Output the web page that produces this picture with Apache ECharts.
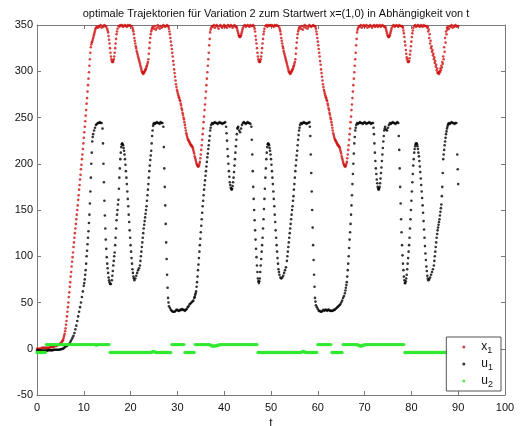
<!DOCTYPE html>
<html>
<head>
<meta charset="utf-8">
<title>optimale Trajektorien</title>
<script src="https://cdn.jsdelivr.net/npm/echarts@6/dist/echarts.min.js"></script>
<style>
  html, body { margin: 0; padding: 0; background: #fff; }
  #main_chart { width: 522px; height: 426px; }
</style>
</head>
<body>
<div id="main_chart"></div>
<script>
// sample step of the trajectories (t = 0 .. 90)
var tStep = 0.2;

var xTicks = [0, 10, 20, 30, 40, 50, 60, 70, 80, 90, 100];
var yTicks = [-50, 0, 50, 100, 150, 200, 250, 300, 350];

// x_1
var x1 = [
  0,0,0,0,0,1,1,1,1,1,
  1,1,1,1,2,2,2,2,2,3,
  3,3,4,4,5,6,7,8,10,14,
  19,26,35,45,56,67,78,89,99,110,
  120,130,140,150,161,172,183,194,205,216,
  228,240,252,265,278,292,306,320,329,332,
  336,340,344,347,348,347,349,348,350,347,
  349,348,350,349,348,346,342,334,325,316,
  311,310,313,320,330,340,346,349,348,350,
  349,350,348,349,350,349,348,350,349,350,
  349,349,347,343,336,330,325,320,316,312,
  308,304,300,298,298,300,302,305,308,313,
  325,336,343,347,348,346,349,345,347,350,
  348,346,349,347,348,350,349,348,349,350,
  349,346,340,332,324,316,307,298,290,283,
  278,274,271,268,263,258,253,248,242,236,
  231,227,225,223,221,220,218,215,211,206,
  202,199,197,198,202,210,220,232,245,258,
  271,285,299,313,328,342,347,349,348,350,
  347,349,350,348,346,349,350,348,347,349,
  350,348,349,347,350,349,348,350,349,347,
  349,350,348,348,345,341,338,337,339,343,
  347,349,350,348,349,350,349,348,350,349,
  349,350,348,343,334,325,316,311,310,313,
  320,330,340,346,349,350,348,350,349,350,
  349,350,349,348,350,349,350,349,349,347,
  343,336,330,325,320,316,312,308,304,300,
  298,298,300,302,305,308,313,325,336,343,
  347,348,346,349,345,348,350,347,349,346,
  348,350,349,348,349,350,349,349,346,340,
  332,324,316,307,298,290,283,278,274,271,
  268,263,258,253,248,242,236,231,227,225,
  223,221,220,218,215,211,206,202,199,197,
  198,202,210,220,232,245,258,271,285,299,
  313,328,342,347,349,348,350,347,349,350,
  348,349,350,347,349,348,350,349,347,349,
  350,348,349,350,348,349,350,348,349,350,
  349,348,348,345,341,338,337,339,343,347,
  349,350,348,349,350,349,348,350,349,349,
  349,347,341,332,323,315,311,310,314,322,
  332,341,347,349,350,348,349,350,349,348,
  350,349,348,350,349,349,349,347,343,336,
  330,325,321,317,313,309,305,301,298,298,
  300,303,306,310,316,326,336,343,347,348,
  346,349,348,350,347,349,348,350,349,348,
  349
];

// x_1, extra samples read on the steep parts [t, value]
var x1Extra = [
  [5.5,9],[5.7,12],[5.9,16],[6.1,22],[6.3,30],[6.5,40],[6.7,50],[6.9,61],[7.1,72],[7.3,83],
  [7.5,94],[7.7,104],[7.9,115],[8.1,125],[8.3,135],[8.5,145],[8.7,155],[8.9,166],[9.1,177],[9.3,188],
  [9.5,199],[9.7,210],[9.9,222],[10.1,234],[10.3,246],[10.5,258],[10.7,271],[10.9,285],[11.1,299],[11.3,313],
  [11.5,326],[11.7,331],[11.9,334],[12.1,338],[12.3,342],[12.5,346],
  [15.1,344],[15.3,338],[15.5,330],[15.7,320],[15.9,313],[16.1,310],[16.3,311],[16.5,316],[16.7,325],[16.9,335],[17.1,343],
  [20.5,345],[20.7,340],[20.9,333],[21.1,327],[21.3,322],[21.5,318],[21.7,314],[21.9,310],[22.1,306],[22.3,302],
  [22.5,299],[22.7,297],[22.9,299],[23.1,301],[23.3,303],[23.5,306],[23.7,310],[23.9,319],[24.1,331],[24.3,340],[24.5,345],
  [28.1,348],[28.3,343],[28.5,336],[28.7,328],[28.9,320],[29.1,311],[29.3,302],[29.5,294],[29.7,286],[29.9,280],
  [30.1,276],[30.3,272],[30.5,269],[30.7,265],[30.9,260],[31.1,255],[31.3,250],[31.5,245],[31.7,239],[31.9,233],
  [32.1,229],[32.3,226],[32.5,224],[32.7,222],[32.9,220],[33.1,219],[33.3,217],[33.5,213],[33.7,208],[33.9,204],
  [34.1,200],[34.3,198],[34.5,197],[34.7,200],[34.9,206],[35.1,215],[35.3,226],[35.5,238],[35.7,251],[35.9,264],
  [36.1,278],[36.3,292],[36.5,306],[36.7,320],[36.9,335],[37.1,345],
  [42.7,347],[42.9,343],[43.1,339],[43.3,337],[43.5,338],[43.7,341],[43.9,345],
  [46.5,346],[46.7,338],[46.9,330],[47.1,320],[47.3,313],[47.5,310],[47.7,311],[47.9,316],[48.1,325],[48.3,335],[48.5,343],
  [51.9,345],[52.1,340],[52.3,333],[52.5,327],[52.7,322],[52.9,318],[53.1,314],[53.3,310],[53.5,306],[53.7,302],
  [53.9,299],[54.1,297],[54.3,299],[54.5,301],[54.7,303],[54.9,306],[55.1,310],[55.3,319],[55.5,331],[55.7,340],[55.9,345],
  [59.5,348],[59.7,343],[59.9,336],[60.1,328],[60.3,320],[60.5,311],[60.7,302],[60.9,294],[61.1,286],[61.3,280],
  [61.5,276],[61.7,272],[61.9,269],[62.1,265],[62.3,260],[62.5,255],[62.7,250],[62.9,245],[63.1,239],[63.3,233],
  [63.5,229],[63.7,226],[63.9,224],[64.1,222],[64.3,220],[64.5,219],[64.7,217],[64.9,213],[65.1,208],[65.3,204],
  [65.5,200],[65.7,198],[65.9,197],[66.1,200],[66.3,206],[66.5,215],[66.7,226],[66.9,238],[67.1,251],[67.3,264],
  [67.5,278],[67.7,292],[67.9,306],[68.1,320],[68.3,335],[68.5,345],
  [74.5,347],[74.7,343],[74.9,339],[75.1,337],[75.3,338],[75.5,341],[75.7,345],
  [78.1,348],[78.3,344],[78.5,337],[78.7,328],[78.9,319],[79.1,313],[79.3,310],[79.5,311],[79.7,318],[79.9,327],[80.1,337],[80.3,344],
  [83.5,348],[83.7,345],[83.9,340],[84.1,333],[84.3,327],[84.5,323],[84.7,319],[84.9,315],[85.1,311],[85.3,307],
  [85.5,303],[85.7,299],[85.9,297],[86.1,299],[86.3,301],[86.5,304],[86.7,308],[86.9,313],[87.1,321],[87.3,331],[87.5,340],[87.7,345]
];

// u_1
var u1 = [
  -2,-2,-2,-2,-2,-2,-2,-2,-2,-2,
  -2,-2,-1.5,-1.5,-1.5,-1.5,-1.5,-1.5,-1,-1,
  -1,-1,-1,-1,-1,-0.5,-0.5,0,0,1,
  2,3,3,4,5,6,8,10,12,14,
  17,21,25,30,35,40,45,50,56,62,
  68,75,85,100,113,127,145,170,200,224,
  232,236,239,242,243,244,244,245,244,244,
  238,200,160,130,108,92,82,74,70,70,
  74,84,95,104,120,139,150,161,185,205,
  218,222,220,214,205,192,178,162,145,128,
  112,98,86,78,74,76,79,82,85,87,
  90,100,110,120,130,138,146,154,166,178,
  192,204,214,230,241,244,243,244,245,244,
  244,243,245,244,244,240,195,155,115,80,
  55,46,44,42,41,40,40,40,41,42,
  42,41,41,42,42,43,42,42,41,42,
  43,45,46,48,49,50,51,52,55,58,
  62,72,85,98,112,126,140,154,166,177,
  187,197,207,216,225,236,242,244,243,244,
  245,244,244,243,244,245,244,244,243,244,
  244,245,240,225,208,192,180,174,172,176,
  185,198,212,226,238,240,236,234,238,242,
  244,245,244,243,244,245,244,244,243,240,
  210,175,150,128,108,90,76,71,76,90,
  105,120,140,162,185,205,218,222,220,214,
  205,192,178,162,145,128,112,98,86,80,
  77,76,77,79,82,85,88,95,105,115,
  125,135,145,154,165,178,192,204,214,226,
  236,242,244,243,244,245,244,244,243,244,
  244,245,230,190,150,112,80,55,47,45,
  43,41,41,40,40,41,42,41,42,42,
  41,42,42,41,41,41,41,42,42,43,
  44,45,46,47,48,50,52,55,57,60,
  66,72,85,100,118,135,155,178,200,222,
  236,242,244,243,244,245,244,244,243,244,
  245,244,243,244,244,245,244,243,244,244,
  232,212,195,183,175,172,175,184,196,210,
  224,236,240,237,236,239,242,244,243,244,
  245,244,244,243,244,245,244,215,175,140,
  112,92,78,71,73,80,92,105,120,140,
  160,180,198,212,219,222,221,216,208,197,
  184,170,155,138,120,103,89,79,74,75,
  77,80,83,86,90,100,110,120,128,134,
  140,148,156,175,205,215,224,232,238,242,
  244,243,244,245,244,244,243,244,244,210,
  178
];

// u_1, extra samples read on the steep parts [t, value]
var u1Extra = [
  [10.1,71],[10.3,80],[10.5,92],[10.7,106],[10.9,120],[11.1,136],[11.3,157],[11.5,185],[11.7,212],[11.9,229],
  [14.1,222],[14.3,180],[14.5,144],[14.7,118],[14.9,99],[15.1,87],[15.3,77],[15.5,72],
  [16.1,79],[16.3,90],[16.5,100],[16.7,112],[16.9,130],[17.1,145],[17.3,156],[17.5,173],[17.7,195],[17.9,212],[18.1,221],
  [18.3,221],[18.5,217],[18.7,210],[18.9,199],[19.1,185],[19.3,170],[19.5,154],[19.7,137],[19.9,120],[20.1,105],[20.3,92],[20.5,82],[20.7,76],
  [22.1,95],[22.3,105],[22.5,115],[22.7,125],[22.9,134],[23.1,142],[23.3,150],[23.5,160],[23.7,172],[23.9,185],
  [24.1,198],[24.3,209],[24.5,222],[24.7,236],[24.9,243],
  [27.1,218],[27.3,175],[27.5,135],[27.7,97],[27.9,66],[28.1,50],
  [33.7,56],[33.9,60],[34.1,67],[34.3,78],[34.5,91],[34.7,105],[34.9,119],[35.1,133],[35.3,147],[35.5,160],
  [35.7,172],[35.9,182],[36.1,192],[36.3,202],[36.5,211],[36.7,220],[36.9,230],[37.1,239],
  [40.5,233],[40.7,216],[40.9,200],[41.1,186],[41.3,177],[41.5,173],[41.7,173],[41.9,180],[42.1,191],[42.3,205],[42.5,219],[42.7,232],[42.9,239],
  [45.9,226],[46.1,192],[46.3,162],[46.5,139],[46.7,118],[46.9,99],[47.1,83],[47.3,73],
  [47.5,73],[47.7,83],[47.9,97],[48.1,112],[48.3,130],[48.5,151],[48.7,173],[48.9,195],[49.1,212],[49.3,221],
  [49.5,221],[49.7,217],[49.9,210],[50.1,199],[50.3,185],[50.5,170],[50.7,154],[50.9,137],[51.1,120],[51.3,105],[51.5,92],[51.7,83],
  [53.5,100],[53.7,110],[53.9,120],[54.1,130],[54.3,140],[54.5,150],[54.7,160],[54.9,172],[55.1,185],[55.3,198],
  [55.5,209],[55.7,220],[55.9,231],[56.1,239],
  [58.3,240],[58.5,210],[58.7,170],[58.9,131],[59.1,96],[59.3,67],[59.5,51],
  [65.9,63],[66.1,69],[66.3,78],[66.5,92],[66.7,109],[66.9,126],[67.1,145],[67.3,166],[67.5,189],[67.7,211],[67.9,229],[68.1,239],
  [71.9,239],[72.1,222],[72.3,203],[72.5,189],[72.7,179],[72.9,173],[73.1,173],[73.3,179],[73.5,190],[73.7,203],[73.9,217],[74.1,230],[74.3,238],
  [77.3,230],[77.5,195],[77.7,157],[77.9,126],[78.1,101],[78.3,85],[78.5,74],
  [78.7,71],[78.9,76],[79.1,86],[79.3,98],[79.5,112],[79.7,130],[79.9,150],[80.1,170],[80.3,189],[80.5,205],
  [80.7,216],[80.9,221],[81.1,222],[81.3,219],[81.5,212],[81.7,203],[81.9,191],[82.1,177],[82.3,163],[82.5,147],
  [82.7,129],[82.9,111],[83.1,96],[83.3,84],[83.5,76],
  [84.9,95],[85.1,105],[85.3,115],[85.5,124],[85.7,131],[85.9,137],[86.1,144],[86.3,152],[86.5,165],[86.7,190],
  [86.9,210],[87.1,220],[87.3,228],[87.5,235],[87.7,240],[87.9,243],
  [89.9,194]
];

// u_2
var u2 = [
  -4,-4,-4,-4,-4,-4,-4,-4,-4,-4,
  4.5,4.5,4.5,4.5,4.5,4.5,4.5,4.5,4.5,4.5,
  4.5,4.5,4.5,4.5,4.5,4.5,4.5,4.5,4.5,4.5,
  4.5,4.5,4.5,4.5,4.5,4.5,4.5,4.5,4.5,4.5,
  4.5,4.5,4.5,4.5,4.5,4.5,4.5,4.5,4.5,4.5,
  4.5,4.5,4.5,4.5,4.5,4.5,4.5,4.5,4.5,4.5,
  4.5,4.5,4.5,4,4,4.5,4.5,4.5,4.5,4.5,
  4.5,4.5,4.5,4.5,4.5,4.5,4.5,4.5,-4,-4,
  -4,-4,-4,-4,-4,-4,-4,-4,-4,-4,
  -4,-4,-4,-4,-4,-4,-4,-4,-4,-4,
  -4,-4,-4,-4,-4,-4,-4,-4,-4,-4,
  -4,-4,-4,-4,-4,-4,-4,-4,-4,-4,
  -4,-4,-4,-3.5,-3,-3,-3.5,-4,-4,-4,
  -4,-4,-4,-4,-4,-4,-4,-4,-4,-4,
  -4,-4,-4,-4,4.5,4.5,4.5,4.5,4.5,4.5,
  4.5,4.5,4.5,4.5,4.5,4.5,4.5,4.5,-4,-4,
  -4,-4,-4,-4,-4,-4,-4,-4,-4,4.5,
  4.5,4.5,4.5,4.5,4.5,4.5,4.5,4.5,4.5,4.5,
  4.5,4.5,4.5,4.5,4.5,4,3.5,3,3,3,
  3,3,3.5,3.5,4,4,4.5,4.5,4.5,4.5,
  4.5,4.5,4.5,4.5,4.5,4.5,4.5,4.5,4.5,4.5,
  4.5,4.5,4.5,4.5,4.5,4.5,4.5,4.5,4.5,4.5,
  4.5,4.5,4.5,4.5,4.5,4.5,4.5,4.5,4.5,4.5,
  4.5,4.5,4.5,4.5,4.5,4.5,-4,-4,-4,-4,
  -4,-4,-4,-4,-4,-4,-4,-4,-4,-4,
  -4,-4,-4,-4,-4,-4,-4,-4,-4,-4,
  -4,-4,-4,-4,-4,-4,-4,-4,-4,-4,
  -4,-4,-4,-4,-4,-4,-4,-4,-4,-4,
  -4,-4,-4,-3.5,-3,-3,-3.5,-4,-4,-4,
  -4,-4,-4,-4,-4,-4,-4,-4,-4,-4,
  4.5,4.5,4.5,4.5,4.5,4.5,4.5,4.5,4.5,4.5,
  4.5,4.5,4.5,4.5,4.5,-4,-4,-4,-4,-4,
  -4,-4,-4,-4,-4,-4,-4,4.5,4.5,4.5,
  4.5,4.5,4.5,4.5,4.5,4.5,4.5,4.5,4.5,4.5,
  4.5,4.5,4.5,4,3.5,3,3,3,3.5,4,
  4,4.5,4.5,4.5,4.5,4.5,4.5,4.5,4.5,4.5,
  4.5,4.5,4.5,4.5,4.5,4.5,4.5,4.5,4.5,4.5,
  4.5,4.5,4.5,4.5,4.5,4.5,4.5,4.5,4.5,4.5,
  4.5,4.5,4.5,4.5,4.5,4.5,4.5,4.5,4.5,4.5,
  4.5,4.5,4.5,-4,-4,-4,-4,-4,-4,-4,
  -4,-4,-4,-4,-4,-4,-4,-4,-4,-4,
  -4,-4,-4,-4,-4,-4,-4,-4,-4,-4,
  -4,-4,-4,-4,-4,-4,-4,-4,-4,-4,
  -4,-4,-4,-4,-4,-4,-4,-4,-4,-4,
  -4,-4,-4,-4,-4,-4,-4,-4,-4,-4,
  -4
];

var seriesNames = ['x1', 'u1', 'u2'];
var seriesColors = ['#d01010', '#000000', '#2ee82e'];

var toPoints = function(arr, extra){
    var pts = [];
    for(var i = 0; i < arr.length; i++){
        pts.push([Math.round(i * tStep * 10) / 10, arr[i]]);
    }
    if(extra){
        pts = pts.concat(extra);
    }
    return pts;
};

var axisGray = '#7a7a7a';
var font = '"Liberation Sans", Arial, sans-serif';

var makeX = function(pos, showLabel){
    return {
        type: 'value', position: pos,
        min: xTicks[0], max: xTicks[xTicks.length - 1], interval: 10,
        name: showLabel ? 't' : '', nameLocation: 'middle', nameGap: 18,
        nameTextStyle: { color: '#111', fontSize: 12, fontFamily: font },
        axisLine: { show: true, onZero: false, lineStyle: { color: axisGray, width: 1 } },
        axisTick: { show: true, inside: true, length: 4, lineStyle: { color: axisGray } },
        axisLabel: { show: showLabel, color: '#111', fontSize: 11, fontFamily: font, margin: 7 },
        splitLine: { show: false }
    };
};
var makeY = function(pos, showLabel){
    return {
        type: 'value', position: pos,
        min: yTicks[0], max: yTicks[yTicks.length - 1], interval: 50,
        axisLine: { show: true, onZero: false, lineStyle: { color: axisGray, width: 1 } },
        axisTick: { show: true, inside: true, length: 4, lineStyle: { color: axisGray } },
        axisLabel: { show: showLabel, color: '#111', fontSize: 11, fontFamily: font, margin: 4 },
        splitLine: { show: false }
    };
};

var dataSets = [toPoints(x1, x1Extra), toPoints(u1, u1Extra), toPoints(u2)];
var sizes = [2.6, 2.6, 3.4];
var rqtDataSet = [];
for(var k = 0; k < dataSets.length; k++){
    rqtDataSet.push({
        name: seriesNames[k],
        type: 'scatter',
        symbol: 'circle',
        symbolSize: sizes[k],
        itemStyle: { color: seriesColors[k] },
        data: dataSets[k],
        silent: true
    });
}

var chartOpt = {
    animation: false,
    backgroundColor: '#fff',
    title: {
        text: 'optimale Trajektorien für Variation 2 zum Startwert x=(1,0) in Abhängigkeit von t',
        left: 271, top: 3, textAlign: 'center',
        textStyle: { fontSize: 11, fontWeight: 'normal', color: '#111', fontFamily: font }
    },
    legend: {
        data: seriesNames,
        orient: 'vertical',
        right: 21, top: 337,
        backgroundColor: '#fff',
        borderColor: '#555', borderWidth: 1, borderRadius: 0,
        padding: [4, 8, 2, 16],
        itemGap: 3,
        itemWidth: 3, itemHeight: 3,
        icon: 'circle',
        formatter: function(name){
            return '{a|' + name.charAt(0) + '}{s|' + name.charAt(1) + '}';
        },
        textStyle: {
            color: '#111', fontFamily: font,
            rich: {
                a: { fontSize: 12, fontFamily: font, color: '#111', padding: [0, 0, 0, 11] },
                s: { fontSize: 9, fontFamily: font, color: '#111', padding: [7, 0, 0, 0] }
            }
        }
    },
    grid: { left: 37, right: 17, top: 25, bottom: 31, outerBoundsMode: 'none' },
    xAxis: [makeX('bottom', true), makeX('top', false)],
    yAxis: [makeY('left', true), makeY('right', false)],
    series: rqtDataSet
};

var main_chart = echarts.init(document.getElementById('main_chart'));
main_chart.setOption(chartOpt);
</script>
</body>
</html>
